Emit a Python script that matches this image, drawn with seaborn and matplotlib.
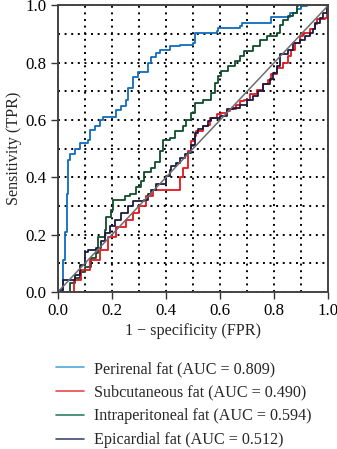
import matplotlib
matplotlib.use("Agg")
import matplotlib.pyplot as plt
import numpy as np
import pandas as pd
import seaborn as sns
from matplotlib.lines import Line2D

sns.set_style("white")
plt.rcParams["font.family"] = ["Liberation Serif", "DejaVu Serif"]

# Curvas ROC (FPR, TPR)
perirenal_fpr = [0, 0.01, 0.019, 0.027, 0.033, 0.037, 0.043, 0.062, 0.08, 0.11, 0.117, 0.136,
                 0.154, 0.166, 0.204, 0.216, 0.235, 0.253, 0.26, 0.278, 0.296, 0.327, 0.333,
                 0.346, 0.364, 0.377, 0.414, 0.451, 0.50, 0.507, 0.587, 0.593, 0.673, 0.68,
                 0.78, 0.79, 0.858, 0.883, 0.90, 0.92, 1.0]
perirenal_tpr = [0, 0, 0.11, 0.21, 0.34, 0.46, 0.48, 0.50, 0.52, 0.53, 0.566, 0.58,
                 0.60, 0.61, 0.61, 0.636, 0.65, 0.67, 0.71, 0.75, 0.767, 0.767, 0.80,
                 0.82, 0.834, 0.846, 0.858, 0.862, 0.87, 0.905, 0.91, 0.92, 0.928, 0.94,
                 0.94, 0.958, 0.975, 0.986, 0.997, 1.0, 1.0]

subcut_fpr = [0, 0.037, 0.06, 0.087, 0.12, 0.154, 0.185, 0.216, 0.25, 0.278, 0.30, 0.327,
              0.352, 0.438, 0.45, 0.463, 0.481, 0.494, 0.506, 0.512, 0.537, 0.556, 0.562,
              0.587, 0.605, 0.624, 0.636, 0.66, 0.673, 0.69, 0.71, 0.735, 0.76, 0.778, 0.79,
              0.81, 0.833, 0.852, 0.864, 0.876, 0.895, 0.907, 0.932, 0.95, 0.957, 0.988,
              0.994, 1.0]
subcut_tpr = [0, 0, 0.04, 0.077, 0.11, 0.147, 0.19, 0.228, 0.25, 0.276, 0.30, 0.333,
              0.357, 0.357, 0.40, 0.434, 0.49, 0.525, 0.544, 0.56, 0.578, 0.584, 0.608,
              0.62, 0.625, 0.63, 0.64, 0.654, 0.666, 0.67, 0.69, 0.706, 0.725, 0.74, 0.76,
              0.783, 0.80, 0.823, 0.846, 0.87, 0.894, 0.905, 0.916, 0.934, 0.951, 0.957,
              0.986, 1.0]

intraperit_fpr = [0, 0.012, 0.043, 0.062, 0.08, 0.099, 0.124, 0.142, 0.148, 0.173, 0.179,
                  0.198, 0.204, 0.247, 0.266, 0.29, 0.309, 0.32, 0.346, 0.358, 0.377, 0.389,
                  0.414, 0.432, 0.463, 0.475, 0.494, 0.506, 0.537, 0.568, 0.58, 0.593, 0.605,
                  0.63, 0.654, 0.673, 0.69, 0.722, 0.747, 0.772, 0.81, 0.82, 0.833, 0.852,
                  0.87, 0.883, 0.889, 1.0]
intraperit_tpr = [0, 0, 0.03, 0.05, 0.07, 0.088, 0.118, 0.136, 0.19, 0.217, 0.26,
                  0.287, 0.32, 0.333, 0.34, 0.365, 0.386, 0.42, 0.434, 0.455, 0.49, 0.53,
                  0.538, 0.56, 0.578, 0.60, 0.625, 0.66, 0.67, 0.694, 0.73, 0.754, 0.77,
                  0.79, 0.805, 0.823, 0.84, 0.858, 0.88, 0.894, 0.905, 0.93, 0.95, 0.963,
                  0.975, 0.997, 1.0, 1.0]

epicard_fpr = [0, 0.006, 0.019, 0.05, 0.062, 0.08, 0.099, 0.111, 0.142, 0.16, 0.173, 0.191,
               0.21, 0.235, 0.26, 0.278, 0.32, 0.333, 0.345, 0.364, 0.40, 0.414, 0.42, 0.438,
               0.45, 0.469, 0.481, 0.494, 0.506, 0.519, 0.537, 0.556, 0.568, 0.587, 0.599,
               0.624, 0.648, 0.673, 0.70, 0.722, 0.741, 0.76, 0.784, 0.796, 0.81, 0.821,
               0.852, 0.87, 0.895, 0.914, 0.932, 0.944, 0.95, 0.969, 0.98, 0.994, 1.0]
epicard_tpr = [0, 0.007, 0.042, 0.042, 0.06, 0.094, 0.14, 0.147, 0.153, 0.176, 0.205, 0.23,
               0.252, 0.275, 0.30, 0.316, 0.32, 0.34, 0.357, 0.378, 0.403, 0.427, 0.438, 0.45,
               0.468, 0.48, 0.485, 0.514, 0.555, 0.567, 0.578, 0.596, 0.608, 0.608, 0.614,
               0.637, 0.643, 0.654, 0.67, 0.684, 0.70, 0.725, 0.742, 0.765, 0.788, 0.829,
               0.846, 0.87, 0.88, 0.894, 0.905, 0.916, 0.94, 0.957, 0.975, 0.997, 1.0]

etiquetas = ["Perirenal fat (AUC = 0.809)", "Subcutaneous fat (AUC = 0.490)",
             "Intraperitoneal fat (AUC = 0.594)", "Epicardial fat (AUC = 0.512)"]
colores = ["#0f6cbd", "#e8141c", "#0d4d2b", "#1b1b3f"]
colores_leyenda = ["#4fa8da", "#e6484c", "#2f8063", "#3f4a6c"]

curvas = [(perirenal_fpr, perirenal_tpr), (subcut_fpr, subcut_tpr),
          (intraperit_fpr, intraperit_tpr), (epicard_fpr, epicard_tpr)]

fig = plt.figure(figsize=(3.37, 4.49), dpi=100)
ax = fig.add_axes([0.172, 0.350, 0.802, 0.638])

# Orden de dibujo: azul, verde, rojo, azul oscuro
for i in [0, 2, 1, 3]:
    fpr, tpr = curvas[i]
    df = pd.DataFrame({"fpr": fpr, "tpr": tpr})
    sns.lineplot(data=df, x="fpr", y="tpr", ax=ax, color=colores[i], sort=False,
                 estimator=None, drawstyle="steps-post", linewidth=1.3)

# Diagonal de referencia
diag = pd.DataFrame({"fpr": [0, 1], "tpr": [0, 1]})
sns.lineplot(data=diag, x="fpr", y="tpr", ax=ax, color="#6e6e6e", linewidth=1.1,
             sort=False, estimator=None)

ax.set_xlim(0, 1)
ax.set_ylim(0, 1)
ax.set_xticks(np.arange(0, 1.01, 0.2))
ax.set_yticks(np.arange(0, 1.01, 0.2))
ax.set_xticks(np.arange(0.1, 1.0, 0.2), minor=True)
ax.set_yticks(np.arange(0.1, 1.0, 0.2), minor=True)
ax.set_xticklabels(["0.0", "0.2", "0.4", "0.6", "0.8", "1.0"])
ax.set_yticklabels(["0.0", "0.2", "0.4", "0.6", "0.8", "1.0"])
ax.grid(True, which="both", color="black", linestyle=(0, (1, 2.4)), linewidth=1.4)
ax.tick_params(axis="both", which="major", direction="out", length=5, width=1,
               labelsize=12.2, colors="#333333", labelcolor="black", pad=3)
ax.tick_params(axis="both", which="minor", length=0)
ax.tick_params(left=True, bottom=True)
for s in ax.spines.values():
    s.set_color("#444444")
    s.set_linewidth(1.4)

ax.set_xlabel("1 − specificity (FPR)", fontsize=11.6, labelpad=3)
ax.set_ylabel("Sensitivity (TPR)", fontsize=11.6, labelpad=3)

handles = [Line2D([0], [0], color=c, linewidth=1.2) for c in colores_leyenda]
fig.legend(handles, etiquetas, loc="upper left", bbox_to_anchor=(0.166, 0.196),
           frameon=False, fontsize=11.6, handlelength=1.75, handletextpad=0.62,
           labelspacing=0.48, borderaxespad=0, borderpad=0)

fig.savefig("out.png", dpi=100)
